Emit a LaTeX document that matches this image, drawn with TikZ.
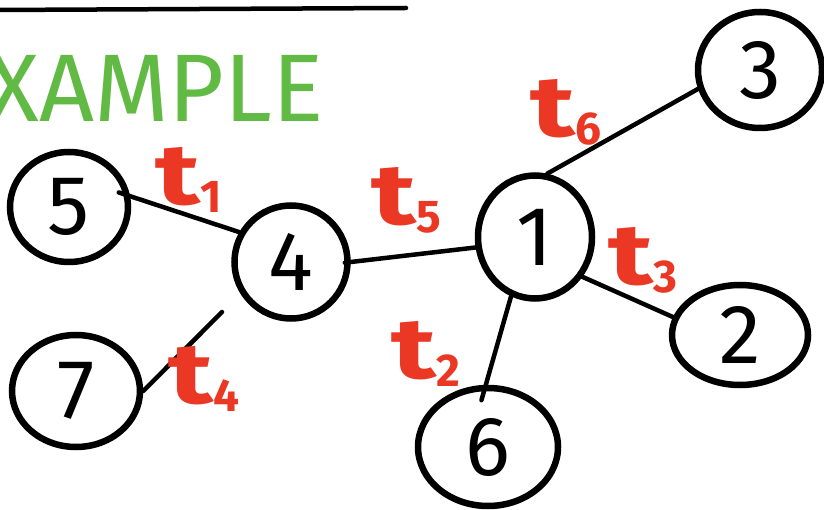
\documentclass[tikz,border=0pt]{standalone}
\usepackage{fontspec}
\setmainfont{Fira Sans}
\usetikzlibrary{shapes.geometric}
\definecolor{hred}{RGB}{234,56,36}
\definecolor{hgreen}{RGB}{96,186,68}
\newcommand{\tlab}[1]{\scalebox{1.35}[1]{t}\raisebox{-8pt}{\fontsize{46}{46}\selectfont #1}}
\tikzset{
  vert/.style={ellipse, draw=black, line width=6.5pt, inner sep=0pt, font=\fontsize{84}{84}\selectfont\mdseries},
  edge/.style={line width=4.5pt, line cap=round},
  lab/.style={text=hred, anchor=base west, font=\fontsize{86}{86}\selectfont\bfseries, inner sep=0pt},
}
\begin{document}
\begin{tikzpicture}[x=1pt,y=-1pt]
\useasboundingbox (0,0) rectangle (824,510);
\clip (0,0) rectangle (824,510);
\fill[white] (0,0) rectangle (824,510);
\coordinate (la) at (-5,10);
\coordinate (lb) at (406,8);
\draw[line width=4.5pt, line cap=round] (la) -- (lb);
\node[anchor=east, text=hgreen, font=\fontsize{96}{96}\selectfont\mdseries, inner sep=0pt] (ex) at (324,88) {EXAMPLE};
\node[vert, minimum width=118pt, minimum height=110pt] (n5) at (69,207) {5};
\node[vert, minimum width=113pt, minimum height=113pt] (n4) at (291,262) {4};
\node[vert, minimum width=128pt, minimum height=112pt] (n7) at (76,391) {7};
\node[vert, minimum width=114pt, minimum height=123pt] (n1) at (535,237) {1};
\node[vert, minimum width=124pt, minimum height=116pt] (n3) at (760,70) {3};
\node[vert, minimum width=136pt, minimum height=100pt] (n2) at (740,335) {2};
\node[vert, minimum width=140pt, minimum height=118pt] (n6) at (488,447) {6};
\coordinate (e74) at (222,312);
\draw[edge, shorten <=-12pt] (n5.10) -- (n4.150);
\draw[edge, shorten <=-6pt, shorten >=-4pt] (n4.east) -- (n1.190);
\draw[edge] (n7.east) -- (e74);
\draw[edge] (n1.79) -- (n3.197);
\draw[edge, shorten <=-3pt] (n1.-40) -- (n2.165);
\draw[edge, shorten >=-16pt] (n1.-112) -- (n6.92);
\node[lab] (t1) at (155,205) {\tlab{1}};
\node[lab] (t5) at (371,225) {\tlab{5}};
\node[lab] (t6) at (530,137) {\tlab{6}};
\node[lab] (t3) at (608,285) {\tlab{3}};
\node[lab] (t2) at (391,378) {\tlab{2}};
\node[lab] (t4) at (168,403) {\tlab{4}};
\end{tikzpicture}
\end{document}
